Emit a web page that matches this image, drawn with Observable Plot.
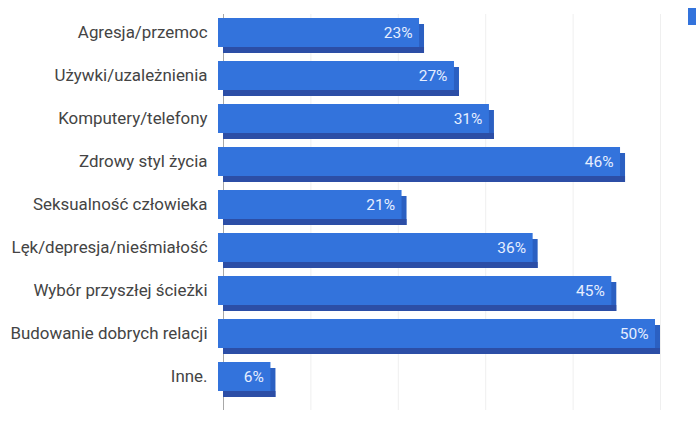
<!DOCTYPE html>
<html>
<head>
<meta charset="utf-8">
<script src="https://cdn.jsdelivr.net/npm/d3@7"></script>
<script src="https://cdn.jsdelivr.net/npm/@observablehq/plot@0.6"></script>
<style>
  html, body { margin: 0; padding: 0; background: #fff; }
  #wrap { position: relative; width: 696px; height: 429px; overflow: hidden; }
  #legend { position: absolute; left: 688px; top: 8px; width: 12px; height: 17px; background: #3373dc; }
</style>
</head>
<body>
<div id="wrap"><div id="legend"></div></div>
<script>
const categories = [
  "Agresja/przemoc",
  "Używki/uzależnienia",
  "Komputery/telefony",
  "Zdrowy styl życia",
  "Seksualność człowieka",
  "Lęk/depresja/nieśmiałość",
  "Wybór przyszłej ścieżki",
  "Budowanie dobrych relacji",
  "Inne."
];
const values = [23, 27, 31, 46, 21, 36, 45, 50, 6];
const gridTicks = [10, 20, 30, 40, 50];

const data = categories.map((c, i) => ({category: c, value: values[i]}));

const chart = Plot.plot({
  width: 696,
  height: 429,
  marginLeft: 223,
  marginRight: 36,
  marginTop: 14,
  marginBottom: 19,
  style: {fontFamily: "Roboto, sans-serif", background: "white"},
  x: {domain: [0, 50], axis: null},
  y: {domain: categories, range: [14, 401], paddingInner: 0.186, paddingOuter: 0.093, label: null},
  marks: [
    Plot.ruleX(gridTicks, {stroke: "#efefef", strokeWidth: 1}),
    Plot.ruleX([0], {stroke: "#a8a8a8", strokeWidth: 1}),
    // side (right) face
    Plot.barX(data, {x: "value", y: "category", fill: "#2b60c2", insetTop: 6}),
    // bottom face
    Plot.barX(data, {x: "value", y: "category", fill: "#2c4ea6", insetTop: 29}),
    // front face
    Plot.barX(data, {x: "value", y: "category", fill: "#3373dc", insetBottom: 6, dx: -5}),
    Plot.text(data, {
      x: "value", y: "category", text: d => d.value + "%",
      textAnchor: "end", dx: -12, dy: -3, fill: "#e6eeff",
      fontSize: 15.5
    }),
    Plot.axisY({tickSize: 0, tickPadding: 16, fontSize: 16.9, fill: "#444", dy: -3, label: null})
  ]
});
document.getElementById("wrap").prepend(chart);
</script>
</body>
</html>
